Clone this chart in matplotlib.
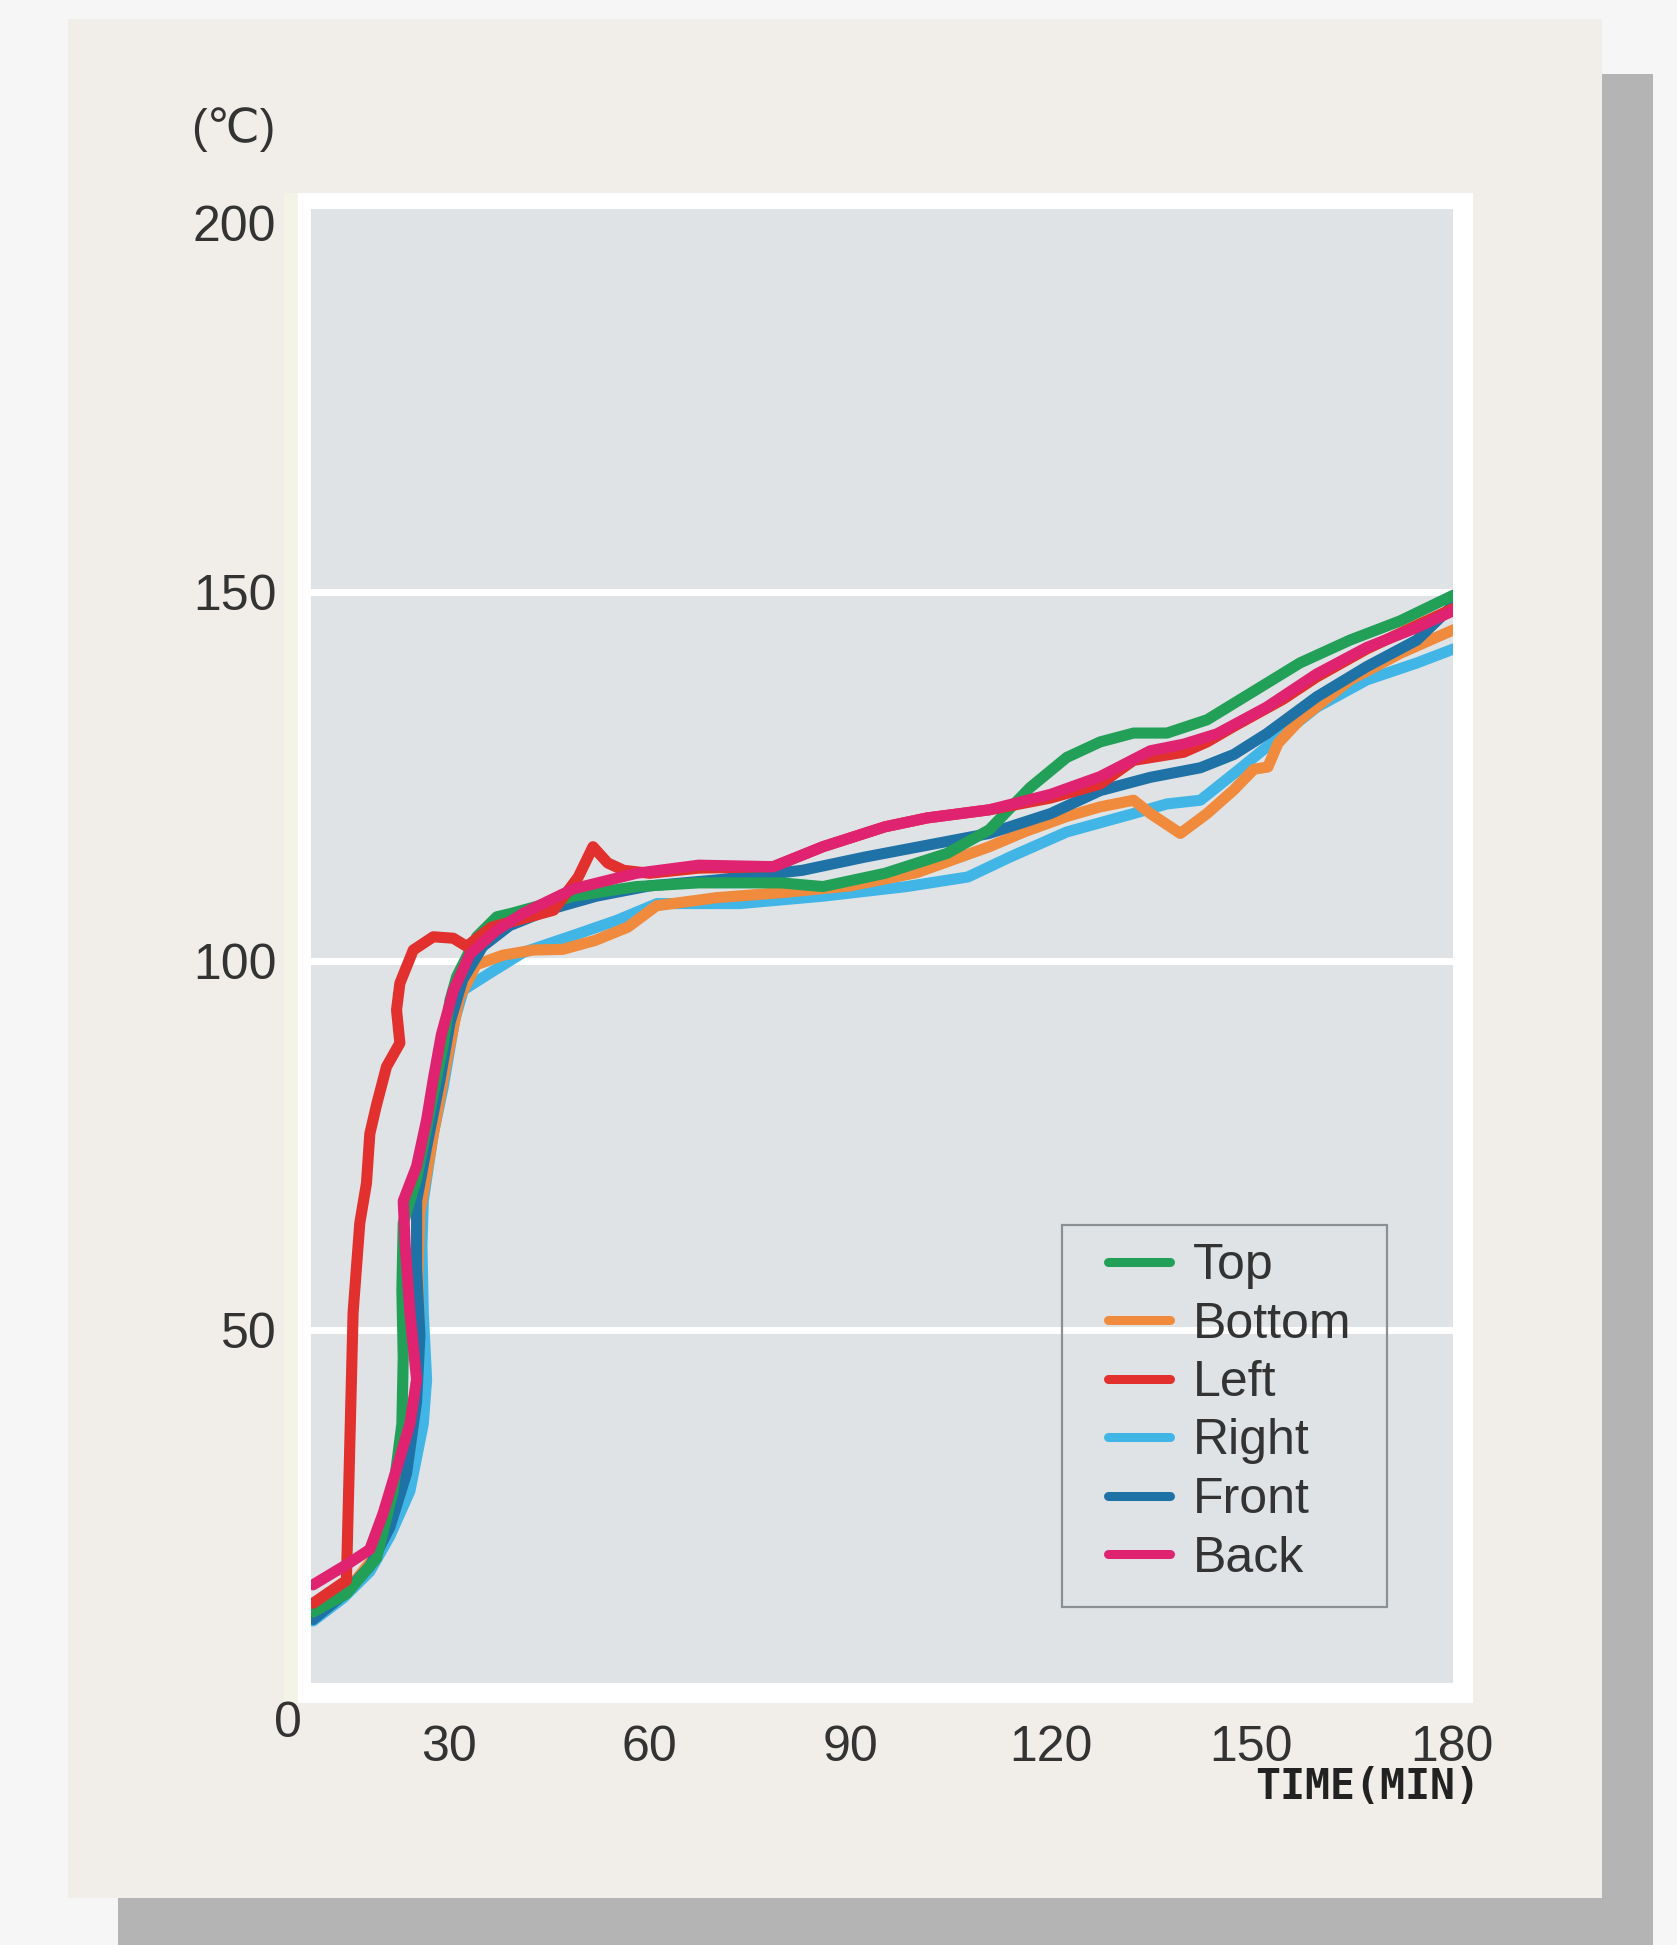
import matplotlib
matplotlib.use("Agg")
import matplotlib.pyplot as plt
from matplotlib.patches import Rectangle

plt.rcParams['font.family'] = ['Liberation Sans', 'DejaVu Sans']

# temperature readings, time in minutes
top_t = [9.6, 14.6, 19.1, 21.6, 22.9, 23.1, 22.9, 23.1, 25.1, 27.1, 29.1, 30.1, 31.1, 34.1, 37.1, 39.4, 48.6, 58.0,
         67.3, 79.7, 85.9, 95.2, 104.5, 110.8, 116.9, 122.4, 127.4, 132.4, 137.4, 140.4, 143.4, 149.9, 157.3,
         164.8, 172.3, 180.3]
top_v = [11.8, 14.3, 19.1, 28.2, 37.3, 46.3, 55.4, 64.5, 70.5, 79.6, 88.7, 94.7, 97.9, 103.3, 106.0, 106.5, 108.8,
         110.1, 110.6, 110.6, 110.1, 111.9, 114.6, 117.8, 123.5, 127.6, 129.7, 130.9, 130.9, 131.8, 132.7, 136.3,
         140.4, 143.5, 146.1, 149.6]

bottom_t = [9.6, 14.5, 19.0, 21.5, 23.5, 25.0, 25.5, 25.3, 25.6, 27.5, 29.5, 31.5, 34.0, 38.0, 42.5, 47.0, 51.8,
            56.7, 61.0, 70.0, 80.0, 90.0, 100.0, 110.8, 116.0, 122.4, 127.4, 132.4, 134.9, 139.4, 143.4, 147.4,
            150.4, 152.5, 154.0, 157.3, 164.8, 172.3, 180.3]
bottom_v = [11.5, 14.5, 19.5, 26.0, 34.0, 42.0, 50.0, 58.0, 66.0, 76.0, 86.0, 95.0, 99.5, 100.8, 101.5, 101.6,
            102.8, 104.6, 107.5, 108.6, 109.3, 110.2, 112.0, 115.5, 117.5, 119.6, 120.9, 121.8, 120.0, 117.3, 120.0,
            123.2, 126.0, 126.3, 129.5, 132.7, 138.1, 141.7, 144.9]

left_t = [9.6, 14.6, 15.1, 15.6, 16.6, 17.6, 18.1, 19.1, 20.6, 22.6, 22.1, 22.6, 24.6, 27.6, 30.6, 32.6, 36.3, 40.0,
          45.6, 49.3, 51.5, 53.7, 56.1, 60.0, 67.3, 78.5, 85.9, 95.2, 101.5, 110.8, 120.0, 127.4, 132.4, 139.9,
          143.4, 147.4, 154.8, 159.8, 167.3, 174.8, 180.3]
left_v = [13.0, 16.1, 34.3, 52.4, 64.5, 69.9, 76.6, 80.5, 85.7, 88.9, 93.4, 97.0, 101.5, 103.3, 103.1, 102.0, 104.6,
          105.5, 106.9, 111.4, 115.5, 113.3, 112.3, 111.9, 112.6, 112.8, 115.5, 118.2, 119.4, 120.5, 122.1, 124.0,
          127.2, 128.3, 129.7, 131.8, 135.5, 138.5, 142.3, 145.5, 147.8]

right_t = [9.6, 14.1, 18.1, 21.1, 24.1, 26.1, 26.6, 26.1, 25.9, 26.1, 27.6, 29.1, 30.8, 32.1, 36.1, 41.1, 48.6,
           55.0, 61.1, 73.5, 85.9, 98.4, 107.6, 113.9, 122.4, 132.4, 137.4, 142.4, 147.4, 152.3, 159.8, 167.3,
           174.8, 180.3]
right_v = [10.6, 13.7, 17.3, 22.1, 28.2, 37.3, 43.3, 52.4, 61.4, 67.5, 76.6, 83.0, 92.0, 96.1, 98.4, 101.2, 103.5,
           105.5, 107.8, 107.8, 108.8, 110.1, 111.4, 114.1, 117.5, 120.0, 121.3, 121.8, 125.4, 129.0, 134.4, 138.1,
           140.4, 142.3]

front_t = [9.6, 14.1, 18.1, 21.1, 23.6, 25.1, 25.6, 25.1, 25.1, 26.6, 28.6, 30.1, 32.0, 35.0, 39.0, 45.0, 52.0,
           60.0, 70.0, 82.8, 92.2, 101.5, 110.8, 120.0, 127.4, 134.9, 142.4, 147.4, 152.3, 159.8, 167.3, 174.8,
           180.3]
front_v = [10.8, 14.1, 18.0, 23.3, 30.6, 40.3, 49.3, 58.4, 67.5, 74.8, 83.9, 91.7, 97.5, 102.0, 104.8, 107.0, 108.8,
           110.2, 111.0, 112.3, 114.1, 115.7, 117.3, 120.0, 123.1, 124.9, 126.2, 128.0, 130.8, 135.8, 139.9, 143.5,
           148.3]

back_t = [9.6, 15.1, 18.1, 20.1, 22.1, 24.1, 25.1, 24.1, 23.4, 23.1, 25.1, 26.6, 27.6, 28.8, 30.6, 33.1, 37.1, 41.1,
          48.6, 58.0, 67.3, 78.5, 85.9, 95.2, 101.5, 110.8, 120.0, 127.4, 134.9, 139.9, 144.9, 152.3, 159.8, 167.3,
          174.8, 180.3]
back_v = [15.5, 18.5, 20.3, 25.2, 31.2, 37.3, 43.3, 52.4, 61.4, 67.5, 72.2, 78.5, 84.0, 90.0, 96.0, 101.0, 104.2,
          106.5, 109.8, 111.9, 113.0, 112.8, 115.5, 118.2, 119.4, 120.5, 122.6, 125.0, 128.5, 129.4, 130.8, 134.4,
          138.9, 142.5, 145.2, 147.5]

names = ['Top', 'Bottom', 'Left', 'Right', 'Front', 'Back']
times = [top_t, bottom_t, left_t, right_t, front_t, back_t]
temps = [top_v, bottom_v, left_v, right_v, front_v, back_v]
colors = ['#22a058', '#f08a3c', '#e2302e', '#41b6e6', '#1f72a6', '#df2370']
zorders = [5, 3, 6, 2, 4, 7]

x_ticks = [30, 60, 90, 120, 150, 180]
y_ticks = [50, 100, 150, 200]

W, H = 1677, 1945
fig = plt.figure(figsize=(W / 100, H / 100), dpi=100, facecolor='#f6f6f6')


def px_rect(x0, y0, x1, y1, color):
    # rectangle given in pixel coordinates from the top-left corner
    r = Rectangle((x0 / W, 1 - y1 / H), (x1 - x0) / W, (y1 - y0) / H,
                  transform=fig.transFigure, facecolor=color, edgecolor='none', zorder=-5)
    fig.patches.append(r)


px_rect(118, 74, 1653, 1945, '#b4b4b4')   # shadow
px_rect(68, 19, 1602, 1898, '#f1eeea')    # card
px_rect(284, 193, 1473, 1703, '#f3f3e6')  # faint cream edge
px_rect(298, 193, 1473, 1703, '#ffffff')  # white frame

ax = fig.add_axes([311 / W, 1 - 1683 / H, (1453 - 311) / W, (1683 - 209) / H])
ax.set_facecolor('#dfe3e6')

for y in [50, 100, 150]:
    ax.axhline(y, color='white', lw=5, zorder=1)

for name, t, v, c, z in zip(names, times, temps, colors, zorders):
    ax.plot(t, v, color=c, lw=8, label=name, zorder=z,
            solid_capstyle='round', solid_joinstyle='round')

ax.set_xlim(9.3, 180.2)
ax.set_ylim(2.2, 201.9)
ax.set_xticks(x_ticks)
ax.set_xticklabels([str(x) for x in x_ticks])
ax.set_yticks(y_ticks)
ax.set_yticklabels([str(y) for y in y_ticks])
ax.tick_params(axis='both', length=0, labelsize=36, colors='#333333')
ax.tick_params(axis='y', pad=25)
ax.tick_params(axis='x', pad=30)
for s in ax.spines.values():
    s.set_visible(False)

# legend box
lb = Rectangle((1062 / W, 1 - 1607 / H), (1387 - 1062) / W, (1607 - 1225) / H,
               transform=fig.transFigure, facecolor='none', edgecolor='#8a9094', lw=1.6, zorder=10)
fig.patches.append(lb)
leg = ax.legend(loc='upper left', bbox_to_anchor=(1108 / W, 1 - 1243 / H),
                bbox_transform=fig.transFigure, frameon=False, fontsize=36,
                handlelength=1.24, handletextpad=0.46, labelspacing=0.25, borderpad=0, borderaxespad=0)
for txt in leg.get_texts():
    txt.set_color('#333333')
for h in leg.legend_handles:
    h.set_linewidth(6.5)

fig.text(288 / W, 1 - 1724 / H, '0', fontsize=36, color='#333333', ha='center', va='center')
fig.text(233 / W, 1 - 130 / H, '(℃)', fontsize=34, color='#333333', ha='center', va='center')
fig.text(1480 / W, 1 - 1787 / H, 'TIME(MIN)', fontsize=30, color='#222222', ha='right', va='center',
         family='DejaVu Sans Mono', weight='bold')

fig.savefig('out.png', dpi=100, facecolor=fig.get_facecolor())
